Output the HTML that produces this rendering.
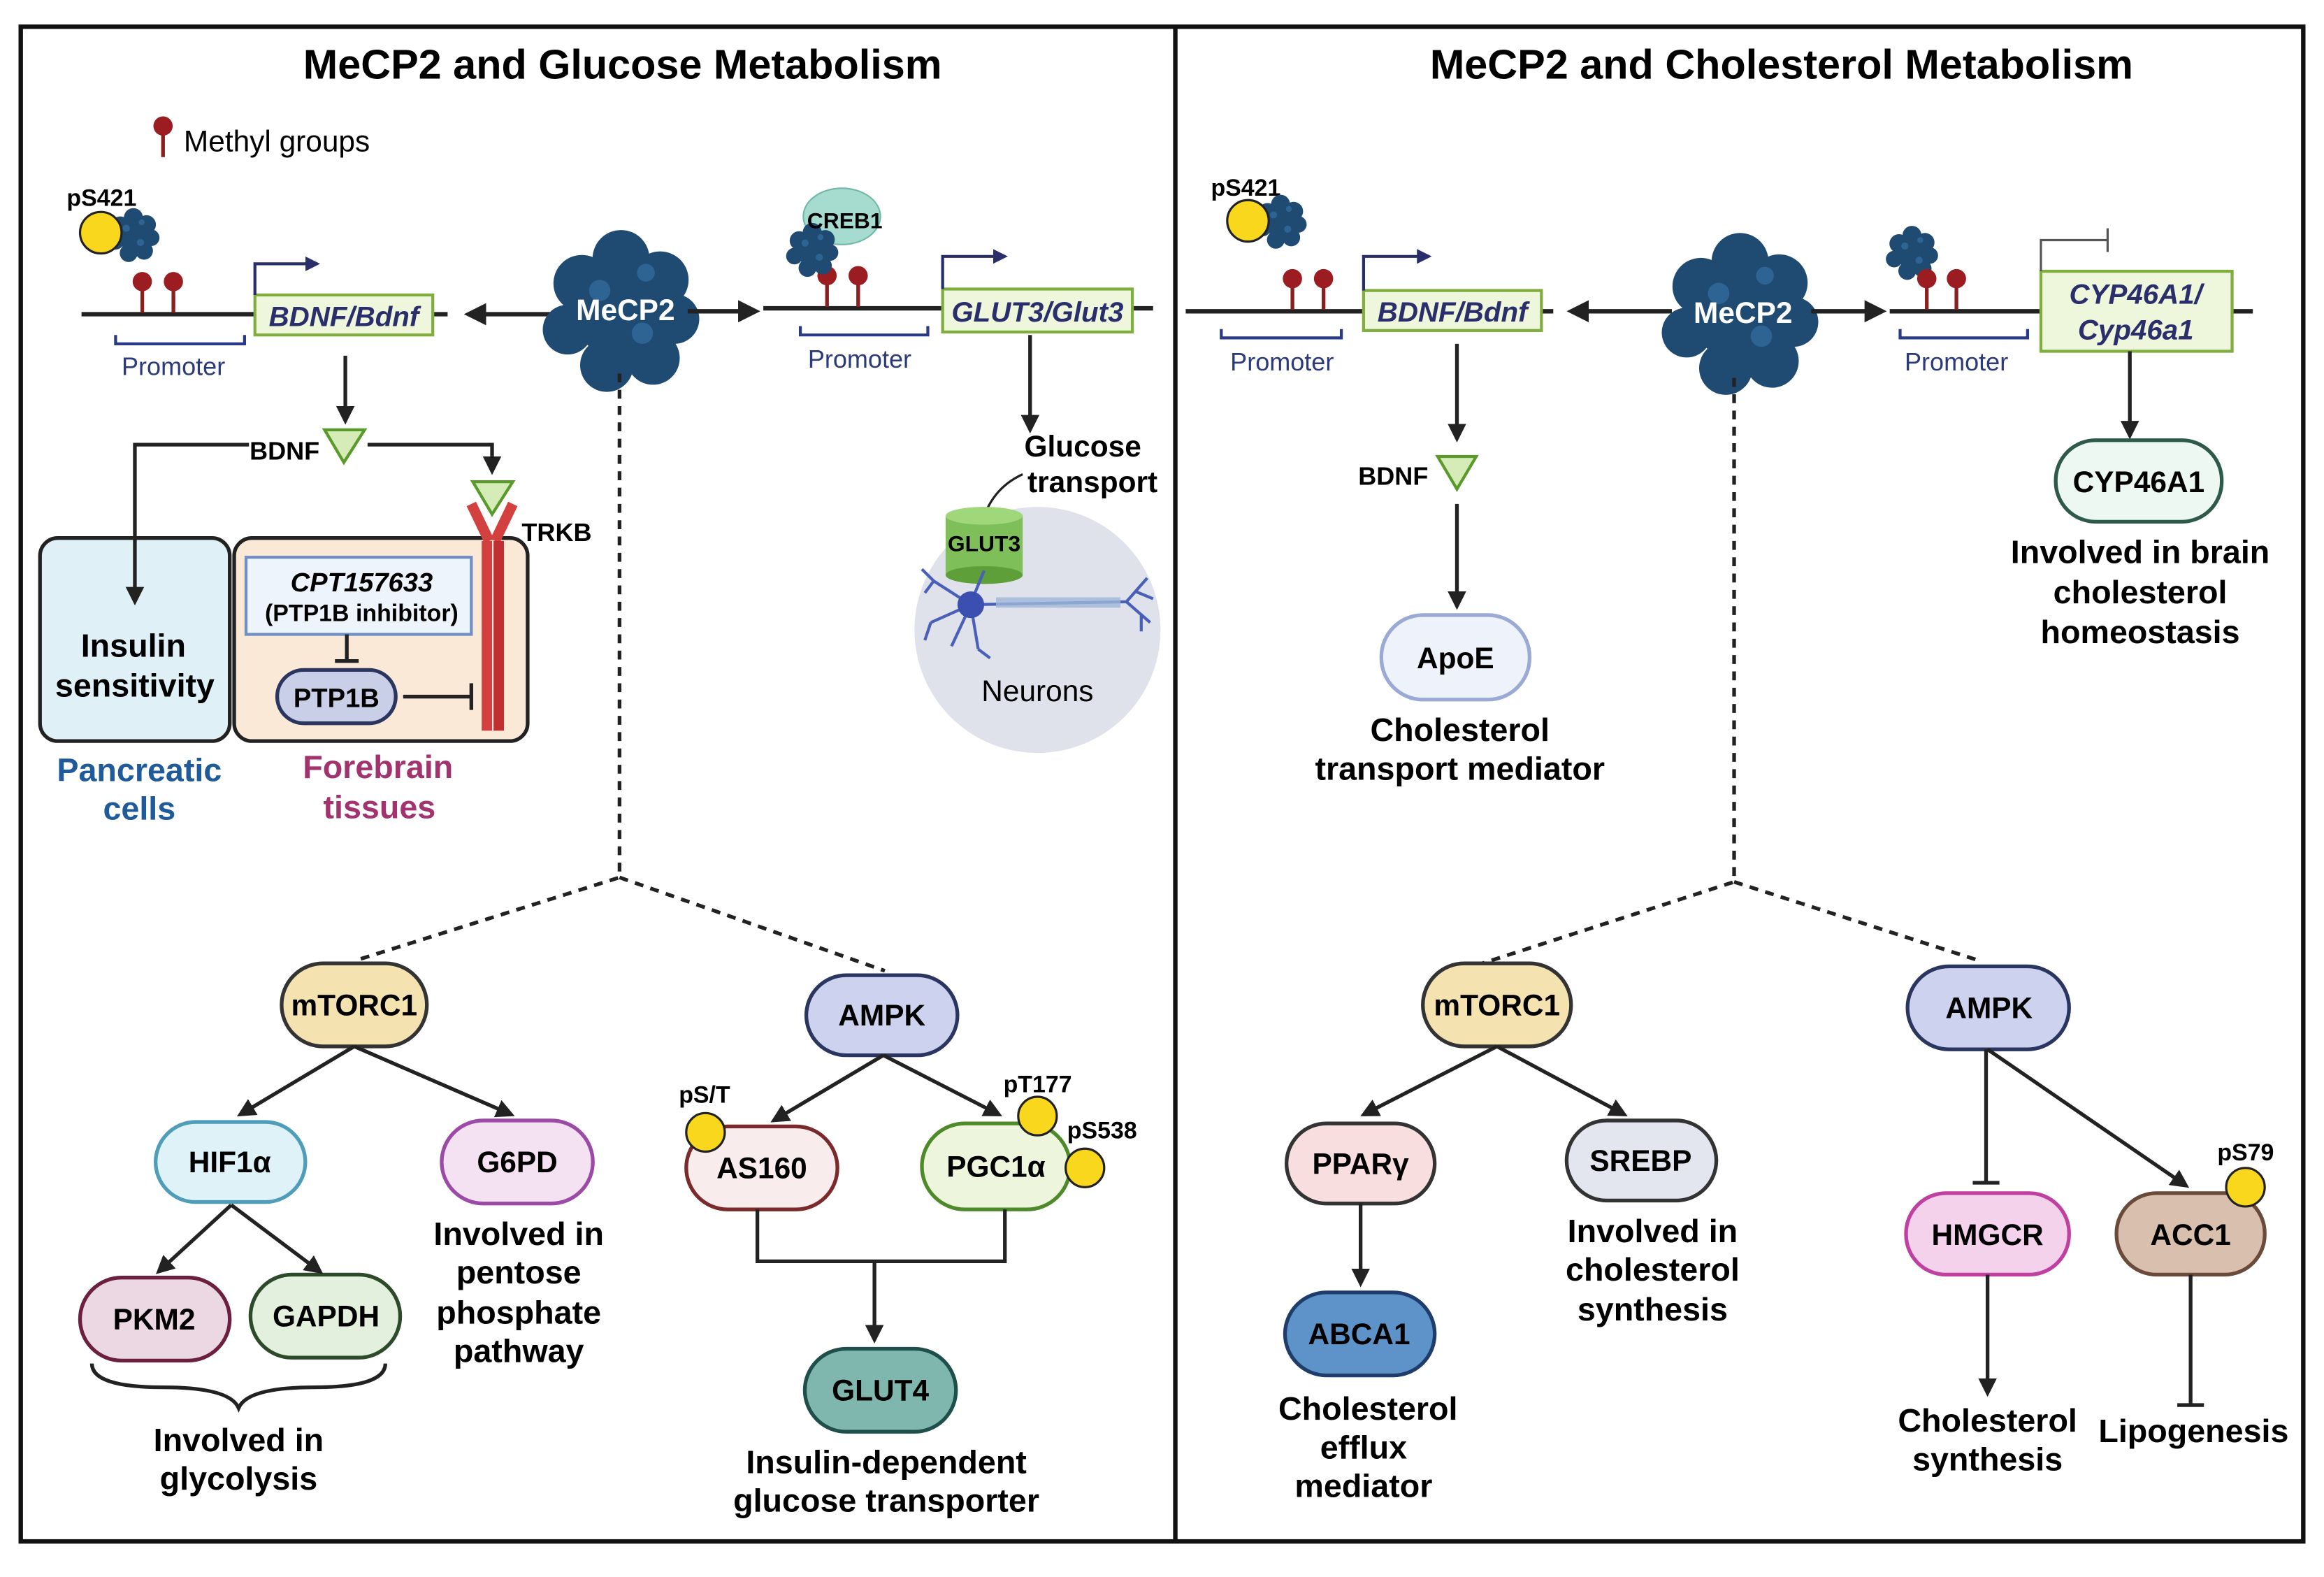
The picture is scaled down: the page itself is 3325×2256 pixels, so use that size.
<!DOCTYPE html>
<html><head><meta charset="utf-8"><style>
html,body{margin:0;padding:0;background:#fff}
svg{display:block}
text{font-family:"Liberation Sans",sans-serif}
.b{font-weight:bold}
</style></head><body>
<svg width="3325" height="2256" viewBox="0 0 1568 1064" preserveAspectRatio="none" xmlns="http://www.w3.org/2000/svg">
<defs>
<marker id="ah" viewBox="0 0 10 10" refX="8" refY="5" markerWidth="5" markerHeight="5" orient="auto-start-reverse"><path d="M0,0 L10,5 L0,10 z" fill="#222"/></marker>
<marker id="ahb" viewBox="0 0 10 10" refX="8" refY="5" markerWidth="5" markerHeight="5" orient="auto"><path d="M0,0 L10,5 L0,10 z" fill="#2a2f6b"/></marker>
<g id="blob">
<circle cx="0" cy="0" r="28" fill="#1f4a72"/>
<circle cx="-22" cy="-14" r="16" fill="#1f4a72"/><circle cx="0" cy="-28" r="16" fill="#1f4a72"/><circle cx="22" cy="-16" r="16" fill="#1f4a72"/>
<circle cx="30" cy="6" r="14" fill="#1f4a72"/><circle cx="18" cy="28" r="15" fill="#1f4a72"/><circle cx="-8" cy="32" r="15" fill="#1f4a72"/>
<circle cx="-30" cy="12" r="14" fill="#1f4a72"/>
<circle cx="-12" cy="-10" r="6" fill="#2e6494"/><circle cx="12" cy="14" r="6" fill="#2e6494"/><circle cx="14" cy="-20" r="5" fill="#2e6494"/>
</g>
<g id="pin"><line x1="0" y1="0" x2="0" y2="-18" stroke="#8a1f1f" stroke-width="2.5"/><circle cx="0" cy="-21" r="6.5" fill="#9b1d22"/></g>
</defs>
<rect x="14" y="18" width="1540" height="1022" fill="#fff" stroke="#111" stroke-width="3"/>
<line x1="793" y1="18" x2="793" y2="1040" stroke="#111" stroke-width="3"/>
<text x="420" y="53" text-anchor="middle" class="b" font-size="28">MeCP2 and Glucose Metabolism</text>
<text x="1202" y="53" text-anchor="middle" class="b" font-size="28">MeCP2 and Cholesterol Metabolism</text>

<use href="#pin" x="110" y="106"/>
<text x="124" y="102" font-size="20">Methyl groups</text>

<text x="45" y="139" class="b" font-size="16">pS421</text>
<use href="#blob" transform="translate(90,158) scale(0.4)"/>
<circle cx="68" cy="157" r="14" fill="#f9d71c" stroke="#222" stroke-width="1.5"/>
<line x1="55" y1="212" x2="172" y2="212" stroke="#222" stroke-width="3"/>
<line x1="292" y1="212" x2="302" y2="212" stroke="#222" stroke-width="3"/>
<use href="#pin" x="96" y="211"/><use href="#pin" x="117" y="211"/>
<path d="M78,226 V232 H165 V226" fill="none" stroke="#2a3a8a" stroke-width="2"/>
<text x="117" y="253" text-anchor="middle" font-size="17" fill="#2b3a7a">Promoter</text>
<rect x="172" y="199" width="120" height="27" fill="#eef6dc" stroke="#7fae3f" stroke-width="2"/>
<text x="232" y="220" text-anchor="middle" class="b" font-style="italic" font-size="19" fill="#2a2f6b">BDNF/Bdnf</text>
<path d="M172,199 V178 H214" fill="none" stroke="#2a2f6b" stroke-width="2" marker-end="url(#ahb)"/>
<line x1="374" y1="212" x2="316" y2="212" stroke="#222" stroke-width="3" marker-end="url(#ah)"/>
<use href="#blob" transform="translate(419,208) scale(1.2)"/>
<text x="422" y="216" text-anchor="middle" class="b" font-size="20" fill="#fff">MeCP2</text>
<line x1="464" y1="210" x2="510" y2="210" stroke="#222" stroke-width="3" marker-end="url(#ah)"/>
<line x1="515" y1="208" x2="636" y2="208" stroke="#222" stroke-width="3"/>
<line x1="764" y1="208" x2="778" y2="208" stroke="#222" stroke-width="3"/>
<use href="#pin" x="558" y="207"/><use href="#pin" x="579" y="207"/>
<ellipse cx="568" cy="146" rx="26" ry="19" fill="#a6dccf" stroke="#6fb8a6"/>
<use href="#blob" transform="translate(548,168) scale(0.4)"/>
<text x="570" y="154" text-anchor="middle" class="b" font-size="15">CREB1</text>
<path d="M540,220 V226 H626 V220" fill="none" stroke="#2a3a8a" stroke-width="2"/>
<text x="580" y="248" text-anchor="middle" font-size="17" fill="#2b3a7a">Promoter</text>
<rect x="636" y="195" width="128" height="29" fill="#eef6dc" stroke="#7fae3f" stroke-width="2"/>
<text x="700" y="217" text-anchor="middle" class="b" font-style="italic" font-size="19" fill="#2a2f6b">GLUT3/Glut3</text>
<path d="M636,195 V173 H678" fill="none" stroke="#2a2f6b" stroke-width="2" marker-end="url(#ahb)"/>
<line x1="695" y1="226" x2="695" y2="290" stroke="#222" stroke-width="2.5" marker-end="url(#ah)"/>
<text x="770" y="308" text-anchor="end" class="b" font-size="20">Glucose</text>
<text x="781" y="332" text-anchor="end" class="b" font-size="20">transport</text>
<circle cx="700" cy="425" r="83" fill="#dfe2ea"/>
<path d="M690,320 Q668,330 662,355" fill="none" stroke="#222" stroke-width="1.5"/>
<rect x="638" y="348" width="52" height="40" fill="#7fbf5a"/>
<ellipse cx="664" cy="348" rx="26" ry="6" fill="#9fd77a"/>
<ellipse cx="664" cy="388" rx="26" ry="6" fill="#5f9f3a"/>
<text x="664" y="372" text-anchor="middle" class="b" font-size="15">GLUT3</text>
<g stroke="#4a5fb8" stroke-width="2" fill="none">
<line x1="655" y1="408" x2="630" y2="392"/><line x1="630" y1="392" x2="622" y2="384"/><line x1="630" y1="392" x2="624" y2="400"/>
<line x1="655" y1="408" x2="628" y2="420"/><line x1="628" y1="420" x2="624" y2="432"/>
<line x1="655" y1="408" x2="642" y2="436"/><line x1="655" y1="408" x2="660" y2="438"/><line x1="660" y1="438" x2="668" y2="444"/>
<line x1="655" y1="408" x2="760" y2="406"/>
<line x1="760" y1="406" x2="774" y2="390"/><line x1="760" y1="406" x2="776" y2="420"/><line x1="766" y1="399" x2="778" y2="404"/><line x1="770" y1="414" x2="770" y2="426"/>
<line x1="664" y1="385" x2="657" y2="402"/>
</g>
<circle cx="655" cy="408" r="9" fill="#3b4fb0"/>
<rect x="672" y="403" width="84" height="7" fill="#9fb6d8" opacity="0.8"/>
<text x="700" y="473" text-anchor="middle" font-size="20">Neurons</text>

<line x1="233" y1="240" x2="233" y2="284" stroke="#222" stroke-width="2.5" marker-end="url(#ah)"/>
<polygon points="219,290 246,290 232,312" fill="#d6ecb8" stroke="#5a9a2a" stroke-width="2"/>
<text x="192" y="310" text-anchor="middle" class="b" font-size="17">BDNF</text>
<path d="M248,300 H332 V318" fill="none" stroke="#222" stroke-width="2.5" marker-end="url(#ah)"/>
<rect x="27" y="363" width="128" height="137" rx="12" fill="#dff1f7" stroke="#222" stroke-width="2.5"/>
<path d="M168,300 H91 V406" fill="none" stroke="#222" stroke-width="2.5" marker-end="url(#ah)"/>
<text x="90" y="443" text-anchor="middle" class="b" font-size="22">Insulin</text>
<text x="91" y="470" text-anchor="middle" class="b" font-size="22">sensitivity</text>
<rect x="158" y="363" width="198" height="137" rx="12" fill="#fbe9d7" stroke="#222" stroke-width="2.5"/>
<polygon points="319,325 346,325 332,347" fill="#d6ecb8" stroke="#5a9a2a" stroke-width="2"/>
<path d="M318,340 L330,365 M346,340 L334,365" stroke="#d34040" stroke-width="7" fill="none"/>
<rect x="325" y="365" width="7" height="128" fill="#d34040"/><rect x="333" y="365" width="7" height="128" fill="#c03030"/>
<text x="352" y="365" class="b" font-size="17">TRKB</text>
<rect x="166" y="376" width="152" height="52" fill="#eef4fb" stroke="#6f8fc4" stroke-width="2"/>
<text x="244" y="399" text-anchor="middle" class="b" font-style="italic" font-size="18">CPT157633</text>
<text x="244" y="419" text-anchor="middle" class="b" font-size="16">(PTP1B inhibitor)</text>
<line x1="234" y1="428" x2="234" y2="446" stroke="#222" stroke-width="2.5"/><line x1="226" y1="446" x2="242" y2="446" stroke="#222" stroke-width="2.5"/>
<rect x="187" y="452" width="80" height="36" rx="18" fill="#c9cfe6" stroke="#2a3560" stroke-width="2.5"/>
<text x="227" y="477" text-anchor="middle" class="b" font-size="18">PTP1B</text>
<line x1="272" y1="470" x2="318" y2="470" stroke="#222" stroke-width="2.5"/><line x1="318" y1="461" x2="318" y2="479" stroke="#222" stroke-width="2.5"/>
<text x="94" y="527" text-anchor="middle" class="b" font-size="22" fill="#1f5a9a">Pancreatic</text>
<text x="94" y="553" text-anchor="middle" class="b" font-size="22" fill="#1f5a9a">cells</text>
<text x="255" y="525" text-anchor="middle" class="b" font-size="22" fill="#a3336f">Forebrain</text>
<text x="256" y="552" text-anchor="middle" class="b" font-size="22" fill="#a3336f">tissues</text>

<path d="M418,252 V592 L240,648 M418,592 L597,655" fill="none" stroke="#222" stroke-width="2.5" stroke-dasharray="6,5"/>
<g stroke-width="2.5">
<rect x="190" y="650" width="98" height="56" rx="28" fill="#f4e2b1" stroke="#333"/>
<rect x="544" y="658" width="102" height="54" rx="27" fill="#cdd3ee" stroke="#2a3560"/>
<rect x="105" y="757" width="101" height="54" rx="27" fill="#dff2f7" stroke="#4f9db8"/>
<rect x="298" y="756" width="102" height="56" rx="28" fill="#f4e1f1" stroke="#9b4aa6"/>
<rect x="54" y="862" width="101" height="56" rx="28" fill="#ecd8e3" stroke="#6b2040"/>
<rect x="169" y="860" width="101" height="56" rx="28" fill="#e3f0dd" stroke="#2d4a2a"/>
<rect x="463" y="760" width="102" height="56" rx="28" fill="#f8ecec" stroke="#7a2a2a"/>
<rect x="622" y="758" width="100" height="58" rx="29" fill="#edf6dc" stroke="#4f8a2a"/>
<rect x="543" y="910" width="102" height="56" rx="28" fill="#7fb6ad" stroke="#1f4f4a"/>
</g>
<g class="b" font-size="20" text-anchor="middle">
<text x="239" y="685">mTORC1</text><text x="595" y="692">AMPK</text><text x="155" y="791">HIF1α</text>
<text x="349" y="791">G6PD</text><text x="104" y="897">PKM2</text><text x="220" y="895">GAPDH</text>
<text x="514" y="795">AS160</text><text x="672" y="794">PGC1α</text><text x="594" y="945">GLUT4</text>
</g>
<g stroke="#222" stroke-width="2.5" fill="none" marker-end="url(#ah)">
<line x1="239" y1="706" x2="162" y2="752"/><line x1="239" y1="706" x2="345" y2="752"/>
<line x1="156" y1="813" x2="107" y2="858"/><line x1="156" y1="813" x2="216" y2="858"/>
<line x1="596" y1="712" x2="522" y2="756"/><line x1="596" y1="712" x2="674" y2="752"/>
<line x1="590" y1="851" x2="590" y2="904"/>
</g>
<path d="M511,816 V851 H678 V816" fill="none" stroke="#222" stroke-width="2.5"/>
<path d="M62,920 Q62,936 110,936 Q155,936 161,950 Q167,936 212,936 Q260,936 260,920" fill="none" stroke="#222" stroke-width="2.5"/>
<circle cx="476" cy="764" r="13" fill="#f9d71c" stroke="#222" stroke-width="1.5"/>
<circle cx="700" cy="753" r="13" fill="#f9d71c" stroke="#222" stroke-width="1.5"/>
<circle cx="732" cy="788" r="13" fill="#f9d71c" stroke="#222" stroke-width="1.5"/>
<g class="b" font-size="16"><text x="458" y="744">pS/T</text><text x="677" y="737">pT177</text><text x="720" y="768">pS538</text></g>
<g class="b" font-size="22" text-anchor="middle">
<text x="161" y="979">Involved in</text><text x="161" y="1005">glycolysis</text>
<text x="350" y="840">Involved in</text><text x="350" y="866">pentose</text><text x="350" y="893">phosphate</text><text x="350" y="919">pathway</text>
<text x="598" y="994">Insulin-dependent</text><text x="598" y="1020">glucose transporter</text>
</g>

<text x="817" y="132" class="b" font-size="16">pS421</text>
<use href="#blob" transform="translate(864,149) scale(0.4)"/>
<circle cx="842" cy="149" r="14" fill="#f9d71c" stroke="#222" stroke-width="1.5"/>
<line x1="800" y1="210" x2="920" y2="210" stroke="#222" stroke-width="3"/>
<line x1="1040" y1="210" x2="1048" y2="210" stroke="#222" stroke-width="3"/>
<use href="#pin" x="872" y="209"/><use href="#pin" x="893" y="209"/>
<path d="M824,222 V228 H905 V222" fill="none" stroke="#2a3a8a" stroke-width="2"/>
<text x="865" y="250" text-anchor="middle" font-size="17" fill="#2b3a7a">Promoter</text>
<rect x="920" y="196" width="120" height="27" fill="#eef6dc" stroke="#7fae3f" stroke-width="2"/>
<text x="980" y="217" text-anchor="middle" class="b" font-style="italic" font-size="19" fill="#2a2f6b">BDNF/Bdnf</text>
<path d="M920,196 V173 H964" fill="none" stroke="#2a2f6b" stroke-width="2" marker-end="url(#ahb)"/>
<line x1="1128" y1="210" x2="1060" y2="210" stroke="#222" stroke-width="3" marker-end="url(#ah)"/>
<use href="#blob" transform="translate(1174,210) scale(1.2)"/>
<text x="1176" y="218" text-anchor="middle" class="b" font-size="20" fill="#fff">MeCP2</text>
<line x1="1222" y1="210" x2="1270" y2="210" stroke="#222" stroke-width="3" marker-end="url(#ah)"/>
<line x1="1275" y1="210" x2="1377" y2="210" stroke="#222" stroke-width="3"/>
<line x1="1506" y1="210" x2="1520" y2="210" stroke="#222" stroke-width="3"/>
<use href="#blob" transform="translate(1290,170) scale(0.4)"/>
<use href="#pin" x="1300" y="209"/><use href="#pin" x="1320" y="209"/>
<path d="M1282,222 V228 H1368 V222" fill="none" stroke="#2a3a8a" stroke-width="2"/>
<text x="1320" y="250" text-anchor="middle" font-size="17" fill="#2b3a7a">Promoter</text>
<rect x="1377" y="183" width="129" height="54" fill="#eef6dc" stroke="#7fae3f" stroke-width="2"/>
<text x="1441" y="205" text-anchor="middle" class="b" font-style="italic" font-size="19" fill="#2a2f6b">CYP46A1/</text>
<text x="1441" y="229" text-anchor="middle" class="b" font-style="italic" font-size="19" fill="#2a2f6b">Cyp46a1</text>
<path d="M1377,183 V162 H1422" fill="none" stroke="#555" stroke-width="1.5"/><line x1="1422" y1="154" x2="1422" y2="170" stroke="#555" stroke-width="1.5"/>
<line x1="1437" y1="237" x2="1437" y2="294" stroke="#222" stroke-width="2.5" marker-end="url(#ah)"/>
<rect x="1387" y="297" width="112" height="55" rx="27" fill="#eef8f2" stroke="#2d5a4a" stroke-width="2.5"/>
<text x="1443" y="332" text-anchor="middle" class="b" font-size="20">CYP46A1</text>
<g class="b" font-size="22" text-anchor="middle">
<text x="1444" y="380">Involved in brain</text><text x="1444" y="407">cholesterol</text><text x="1444" y="434">homeostasis</text>
</g>
<line x1="983" y1="232" x2="983" y2="296" stroke="#222" stroke-width="2.5" marker-end="url(#ah)"/>
<polygon points="970,308 996,308 983,330" fill="#d6ecb8" stroke="#5a9a2a" stroke-width="2"/>
<text x="940" y="327" text-anchor="middle" class="b" font-size="17">BDNF</text>
<line x1="983" y1="340" x2="983" y2="409" stroke="#222" stroke-width="2.5" marker-end="url(#ah)"/>
<rect x="932" y="415" width="100" height="57" rx="28" fill="#eef2fa" stroke="#9aaad4" stroke-width="2.5"/>
<text x="982" y="451" text-anchor="middle" class="b" font-size="20">ApoE</text>
<text x="985" y="500" text-anchor="middle" class="b" font-size="22">Cholesterol</text>
<text x="985" y="526" text-anchor="middle" class="b" font-size="22">transport mediator</text>

<path d="M1170,255 V595 L1000,650 M1170,595 L1335,648" fill="none" stroke="#222" stroke-width="2.5" stroke-dasharray="6,5"/>
<g stroke-width="2.5">
<rect x="960" y="650" width="100" height="56" rx="28" fill="#f4e2b1" stroke="#333"/>
<rect x="1287" y="652" width="109" height="56" rx="28" fill="#cdd3ee" stroke="#2a3560"/>
<rect x="868" y="758" width="100" height="54" rx="27" fill="#f8dede" stroke="#333"/>
<rect x="1057" y="756" width="101" height="54" rx="27" fill="#e3e5ef" stroke="#333"/>
<rect x="867" y="872" width="101" height="56" rx="28" fill="#5d93c8" stroke="#1f3d6a"/>
<rect x="1286" y="805" width="110" height="55" rx="27" fill="#f4d2ec" stroke="#c040a0"/>
<rect x="1428" y="805" width="100" height="55" rx="27" fill="#d8bfae" stroke="#6a4a3a"/>
</g>
<g class="b" font-size="20" text-anchor="middle">
<text x="1010" y="685">mTORC1</text><text x="1342" y="687">AMPK</text><text x="918" y="792">PPARγ</text>
<text x="1107" y="790">SREBP</text><text x="917" y="907">ABCA1</text><text x="1341" y="840">HMGCR</text><text x="1478" y="840">ACC1</text>
</g>
<g stroke="#222" stroke-width="2.5" fill="none" marker-end="url(#ah)">
<line x1="1010" y1="706" x2="920" y2="752"/><line x1="1010" y1="706" x2="1096" y2="752"/>
<line x1="918" y1="812" x2="918" y2="866"/>
<line x1="1341" y1="708" x2="1475" y2="800"/>
<line x1="1341" y1="860" x2="1341" y2="940"/>
</g>
<line x1="1340" y1="708" x2="1340" y2="798" stroke="#222" stroke-width="2.5"/><line x1="1331" y1="798" x2="1349" y2="798" stroke="#222" stroke-width="2.5"/>
<line x1="1478" y1="860" x2="1478" y2="948" stroke="#222" stroke-width="2.5"/><line x1="1469" y1="948" x2="1487" y2="948" stroke="#222" stroke-width="2.5"/>
<circle cx="1515" cy="801" r="13" fill="#f9d71c" stroke="#222" stroke-width="1.5"/>
<text x="1496" y="783" class="b" font-size="16">pS79</text>
<g class="b" font-size="22" text-anchor="middle">
<text x="923" y="958">Cholesterol</text><text x="920" y="984">efflux</text><text x="920" y="1010">mediator</text>
<text x="1115" y="838">Involved in</text><text x="1115" y="864">cholesterol</text><text x="1115" y="891">synthesis</text>
<text x="1341" y="966">Cholesterol</text><text x="1341" y="992">synthesis</text>
<text x="1480" y="973">Lipogenesis</text>
</g>
</svg>
</body></html>
